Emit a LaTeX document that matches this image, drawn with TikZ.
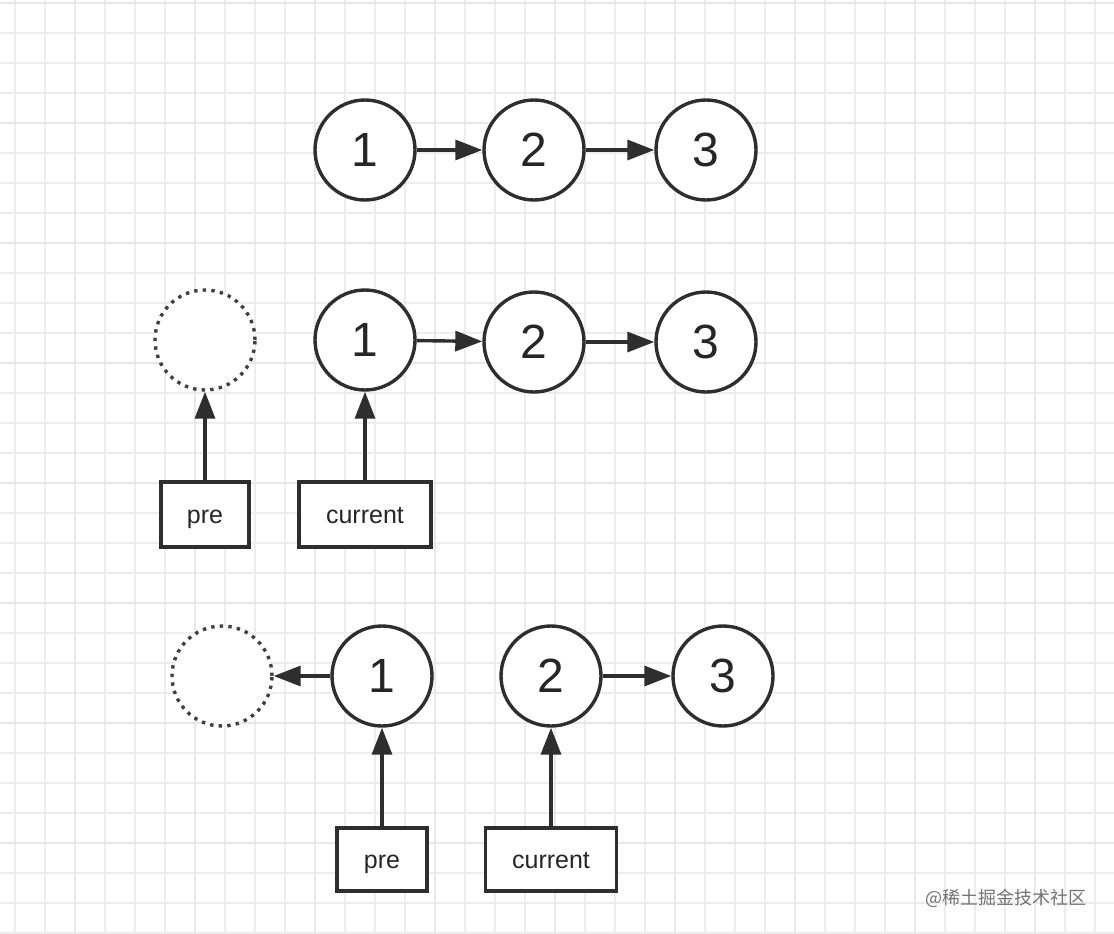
\documentclass[tikz,border=0pt]{standalone}
\usepackage{fontspec}
\setmainfont{Liberation Sans}
\newfontfamily\cjk{Noto Sans CJK SC}
\usetikzlibrary{arrows.meta}
\begin{document}
\begin{tikzpicture}[x=1pt,y=-1pt,
  ln/.style={draw=black!82, line width=3.4pt},
  num/.style={ln, circle, minimum size=100pt, inner sep=0pt, fill=white, font=\fontsize{48}{48}\selectfont, text=black!85},
  ghost/.style={circle, minimum size=100pt, inner sep=0pt, draw=black!75, line width=3.4pt, dash pattern=on 3.4pt off 5.2pt, fill=white},
  ptr/.style={ln, rectangle, inner sep=0pt, fill=white, font=\fontsize{25}{25}\selectfont, text=black!85, text height=20pt, text depth=2pt},
  arr/.style={draw=black!82, line width=3.4pt, -{Triangle[length=27pt,width=20pt]}},
]
\useasboundingbox (0,0) rectangle (1114,934);
\fill[white] (0,0) rectangle (1114,934);
% grid
\foreach \x in {15,45,...,1114} \draw[black!7, line width=1.2pt] (\x,0) -- (\x,934);
\foreach \y in {3,33,...,934} \draw[black!7, line width=1.2pt] (0,\y) -- (1114,\y);
\foreach \x in {75,195,...,1114} \draw[black!9, line width=1.5pt] (\x,0) -- (\x,934);
\foreach \y in {3,123,...,934} \draw[black!9, line width=1.5pt] (0,\y) -- (1114,\y);

% row 1
\node[num] (a1) at (365,150) {1};
\node[num] (a2) at (534,150) {2};
\node[num] (a3) at (706,150) {3};
\draw[arr] (a1) -- (a2);
\draw[arr] (a2) -- (a3);

% row 2
\node[ghost] (b0) at (205,340) {};
\node[num] (b1) at (365,340) {1};
\node[num] (b2) at (534,342) {2};
\node[num] (b3) at (706,342) {3};
\draw[arr] (b1) -- (b2);
\draw[arr] (b2) -- (b3);
\node[ptr, minimum width=88pt, minimum height=65pt] (bpre) at (205,514.5) {pre};
\node[ptr, minimum width=132pt, minimum height=65pt] (bcur) at (365,514.5) {current};
\draw[arr] (bpre) -- (b0);
\draw[arr] (bcur) -- (b1);

% row 3
\node[ghost] (c0) at (222,676) {};
\node[num] (c1) at (382,676) {1};
\node[num] (c2) at (551,676) {2};
\node[num] (c3) at (723,676) {3};
\draw[arr] (c1) -- (c0);
\draw[arr] (c2) -- (c3);
\node[ptr, minimum width=90pt, minimum height=63pt] (cpre) at (382,859.5) {pre};
\node[ptr, minimum width=131pt, minimum height=63pt] (ccur) at (551,859.5) {current};
\draw[arr] (cpre) -- (c1);
\draw[arr] (ccur) -- (c2);

% watermark
\node[font=\cjk\fontsize{18}{18}\selectfont, text=black!55, anchor=east] (wm) at (1090,898) {@稀土掘金技术社区};
\end{tikzpicture}
\end{document}
